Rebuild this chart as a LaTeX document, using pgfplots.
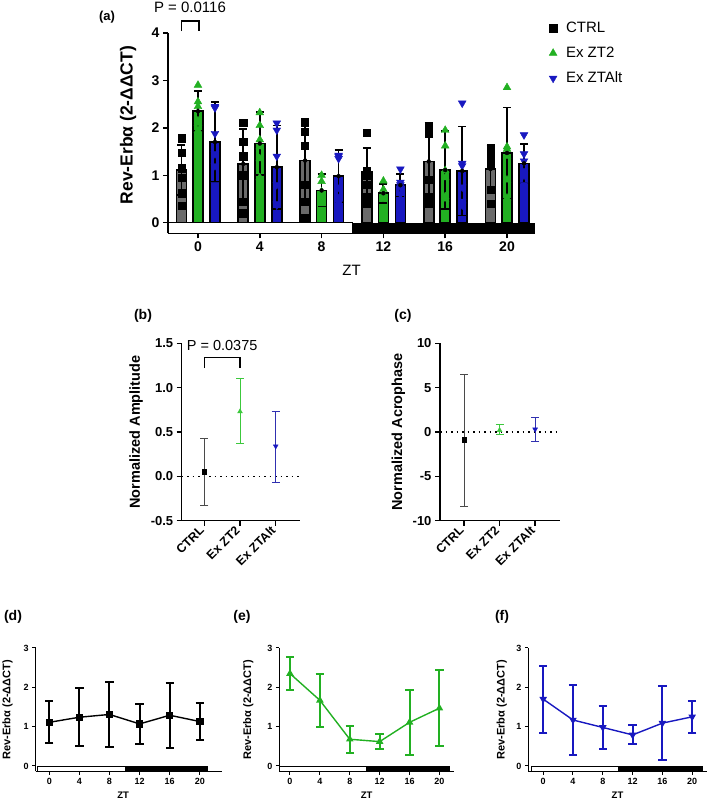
\documentclass[border=0pt]{standalone}
\usepackage{pgfplots}
\pgfplotsset{compat=1.18}
\usepackage{fontspec}
\setmainfont{Liberation Sans}
\definecolor{cgray}{HTML}{6A6A6A}
\definecolor{cgreen}{HTML}{22B022}
\definecolor{cblue}{HTML}{1818C0}
\definecolor{lgray}{HTML}{4A4A4A}
\definecolor{lgreen}{HTML}{3CC83C}
\definecolor{lblue}{HTML}{3030B0}
\newcommand{\fs}[1]{\fontsize{#1}{#1}\selectfont}
\pgfplotsset{
  base/.style={scale only axis, anchor=south west, axis lines=left,
    axis line style={-, line width=#1}, tick style={black, line width=#1},
    tick align=outside, clip=false,
    /pgf/number format/assume math mode=true},
  barerr/.style={only marks, mark=none, forget plot, error bars/.cd, y dir=both, y explicit,
    error bar style={line width=1.8pt, draw=black},
    error mark options={rotate=90, mark size=4pt, line width=1.8pt, draw=black}},
  dot/.style={error bars/.cd, y dir=both, y explicit,
    error bar style={line width=0.8pt},
    error mark options={rotate=90, mark size=4pt, line width=0.8pt}},
  lineax/.style={base=1pt, height=123.5pt, ymin=-0.14, ymax=3,
    ytick={0,1,2,3}, xtick={0,4,8,12,16,20}, major tick length=3.5pt,
    ticklabel style={font=\fs{9}\bfseries},
    ylabel={Rev-Erbα (2-ΔΔCT)}, xlabel={ZT},
    ylabel style={font=\fs{11}\bfseries, anchor=center},
    xlabel style={font=\fs{9.5}\bfseries, anchor=center}},
  lineerr/.style={error bars/.cd, y dir=both, y explicit,
    error bar style={line width=2pt},
    error mark options={rotate=90, mark size=4.2pt, line width=2pt}},
}
\begin{document}
\begin{tikzpicture}
\useasboundingbox (0pt,0pt) rectangle (709pt,803pt);
% ---------------- panel (a)
\begin{axis}[base=1.5pt, at={(168pt,569.7pt)}, width=367pt, height=200.3pt,
  xmin=-0.485, xmax=5.453, ymin=-0.224, ymax=4,
  xtick={0,1,2,3,4,5}, xticklabels={0,4,8,12,16,20},
  ytick={0,1,2,3,4}, major tick length=5pt,
  ticklabel style={font=\fs{14}\bfseries},
  ylabel={Rev-Erbα (2-ΔΔCT)}, xlabel={ZT},
  ylabel style={font=\fs{17.5}\bfseries, at={(axis description cs:-0.109,0.54)}, anchor=center},
  xlabel style={font=\fs{15}, at={(axis description cs:0.5,-0.183)}, anchor=center},
  legend style={at={(1.03,1.075)}, anchor=north west, draw=none, fill=none,
    font=\fs{15}, row sep=9pt, column sep=7pt}, legend cell align=left]
\draw[fill=white, line width=1pt] (axis cs:-0.485,-0.224) rectangle (axis cs:2.5,0);
\fill[black] (axis cs:2.5,-0.224) rectangle (axis cs:5.453,0);
\addplot[forget plot, ybar, bar width=10pt, bar shift=-16.5pt, fill=cgray, draw=black, line width=1.6pt]
  coordinates {(0,1.11) (1,1.24) (2,1.31) (3,1.07) (4,1.29) (5,1.13)};
\addplot[forget plot, ybar, bar width=10pt, bar shift=0pt, fill=cgreen, draw=black, line width=1.6pt]
  coordinates {(0,2.35) (1,1.67) (2,0.68) (3,0.62) (4,1.11) (5,1.47)};
\addplot[forget plot, ybar, bar width=10pt, bar shift=17pt, fill=cblue, draw=black, line width=1.6pt]
  coordinates {(0,1.70) (1,1.17) (2,0.98) (3,0.79) (4,1.09) (5,1.25)};
\addplot[only marks, mark=square*, mark size=3.6pt, black] coordinates {
  (-0.267,1.78) (-0.267,1.48) (-0.267,1.15) (-0.267,0.95) (-0.267,0.62) (-0.267,0.35)
  (0.733,2.10) (0.733,1.70) (0.733,1.40) (0.733,1.00) (0.733,0.45) (0.733,0.20)
  (1.733,2.12) (1.733,1.92) (1.733,1.62) (1.733,0.80) (1.733,0.45) (1.733,0.10)
  (2.733,1.90) (2.733,1.10) (2.733,1.00) (2.733,0.80) (2.733,0.55) (2.733,0.40)
  (3.733,2.05) (3.733,1.95) (3.733,1.88) (3.733,0.90) (3.733,0.55) (3.733,0.40)
  (4.733,1.58) (4.733,1.50) (4.733,1.35) (4.733,1.25) (4.733,0.70) (4.733,0.40)};
\addlegendentry{CTRL}
\addplot[only marks, mark=triangle*, mark size=4.5pt, cgreen] coordinates {
  (0,2.90) (0,2.55) (0,2.45) (0,2.10) (0,1.95) (0,2.15)
  (1,2.32) (1,1.75) (1,1.60) (1,1.35) (1,0.95) (1,2.05)
  (2,1.00) (2,0.87) (2,0.65) (2,0.55) (2,0.40) (2,0.61)
  (3,0.88) (3,0.70) (3,0.60) (3,0.55) (3,0.50) (3,0.49)
  (4,1.95) (4,1.62) (4,1.10) (4,0.95) (4,0.55) (4,0.50)
  (5,2.85) (5,1.60) (5,1.55) (5,1.40) (5,0.90) (5,0.52)};
\addlegendentry{Ex ZT2}
\addplot[only marks, mark=triangle*, mark options={rotate=180}, mark size=4.5pt, cblue] coordinates {
  (0.275,2.45) (0.275,2.42) (0.275,1.88) (0.275,1.45) (0.275,1.20) (0.275,0.80)
  (1.275,2.10) (1.275,1.95) (1.275,1.40) (1.275,0.80) (1.275,0.40) (1.275,0.37)
  (2.275,1.42) (2.275,1.40) (2.275,1.35) (2.275,0.75) (2.275,0.55) (2.275,0.41)
  (3.275,1.13) (3.275,0.85) (3.275,0.80) (3.275,0.75) (3.275,0.60) (3.275,0.61)
  (4.275,2.52) (4.275,1.25) (4.275,1.20) (4.275,0.75) (4.275,0.45) (4.275,0.37)
  (5.275,1.85) (5.275,1.45) (5.275,1.30) (5.275,1.10) (5.275,1.00) (5.275,0.80)};
\addlegendentry{Ex ZTAlt}
\addplot[barerr] coordinates {(-0.267,1.11) +- (0,0.53) (0.733,1.24) +- (0,0.74) (1.733,1.31) +- (0,0.82)
  (2.733,1.07) +- (0,0.50) (3.733,1.29) +- (0,0.82) (4.733,1.13) +- (0,0.48)};
\addplot[barerr] coordinates {(0,2.35) +- (0,0.42) (1,1.67) +- (0,0.67) (2,0.68) +- (0,0.34)
  (3,0.62) +- (0,0.20) (4,1.11) +- (0,0.83) (5,1.47) +- (0,0.96)};
\addplot[barerr] coordinates {(0.275,1.70) +- (0,0.85) (1.275,1.17) +- (0,0.88) (2.275,0.98) +- (0,0.55)
  (3.275,0.79) +- (0,0.24) (4.275,1.09) +- (0,0.94) (5.275,1.25) +- (0,0.41)};
\draw[line width=1.3pt] (axis cs:-0.264,4.04) -- (axis cs:-0.264,4.25) -- (axis cs:0.016,4.25) -- (axis cs:0.016,4.04);
\node[font=\fs{15}] at (axis cs:-0.13,4.55) {P = 0.0116};
\end{axis}
\node[font=\fs{13}\bfseries] at (107pt,786.3pt) {(a)};
% ---------------- panel (b)
\begin{axis}[base=1.5pt, at={(181.7pt,282.3pt)}, width=118.3pt, height=177.4pt,
  xmin=-0.633, xmax=2.68, ymin=-0.5, ymax=1.5,
  xtick={0,1,2}, xticklabels={CTRL,Ex ZT2,Ex ZTAlt},
  ytick={-0.5,0,0.5,1,1.5}, major tick length=5pt,
  yticklabel style={font=\fs{13}\bfseries, /pgf/number format/.cd, fixed, fixed zerofill, precision=1},
  xticklabel style={font=\fs{12.5}\bfseries, rotate=45, anchor=east},
  ylabel={Normalized Amplitude},
  ylabel style={font=\fs{14.5}\bfseries, at={(axis description cs:-0.386,0.5)}, anchor=center}]
\addplot[black, line width=1.5pt, dash pattern=on 1.5pt off 4pt] coordinates {(-0.633,0) (2.68,0)};
\addplot[lgray, only marks, mark=square*, mark size=2.3pt, mark options={black}, dot]
  coordinates {(0,0.05) += (0,0.38) -= (0,0.38)};
\addplot[lgreen, only marks, mark=triangle*, mark size=2.8pt, dot]
  coordinates {(1,0.73) += (0,0.37) -= (0,0.36)};
\addplot[lblue, only marks, mark=triangle*, mark options={rotate=180, fill=cblue, draw=cblue}, mark size=2.8pt, dot]
  coordinates {(2,0.34) += (0,0.39) -= (0,0.41)};
\draw[line width=1.4pt] (axis cs:0,1.22) -- (axis cs:0,1.338) -- (axis cs:1,1.338) -- (axis cs:1,1.22);
\node[font=\fs{14.5}] at (axis cs:0.5,1.48) {P = 0.0375};
\end{axis}
\node[font=\fs{14}\bfseries] at (143pt,487pt) {(b)};
% ---------------- panel (c)
\begin{axis}[base=1.5pt, at={(440pt,282.3pt)}, width=120pt, height=177.4pt,
  xmin=-0.676, xmax=2.70, ymin=-10, ymax=10,
  xtick={0,1,2}, xticklabels={CTRL,Ex ZT2,Ex ZTAlt},
  ytick={-10,-5,0,5,10}, major tick length=5pt,
  yticklabel style={font=\fs{13}\bfseries},
  xticklabel style={font=\fs{12.5}\bfseries, rotate=45, anchor=east},
  ylabel={Normalized Acrophase},
  ylabel style={font=\fs{14.5}\bfseries, at={(axis description cs:-0.347,0.5)}, anchor=center}]
\addplot[black, line width=1.5pt, dash pattern=on 1.5pt off 4pt] coordinates {(-0.676,0) (2.70,0)};
\addplot[lgray, only marks, mark=square*, mark size=2.3pt, mark options={black}, dot]
  coordinates {(0,-0.9) += (0,7.4) -= (0,7.5)};
\addplot[lgreen, only marks, mark=triangle*, mark size=2.8pt, dot]
  coordinates {(1,0.2) += (0,0.7) -= (0,0.5)};
\addplot[lblue, only marks, mark=triangle*, mark options={rotate=180, fill=cblue, draw=cblue}, mark size=2.8pt, dot]
  coordinates {(2,0.3) += (0,1.3) -= (0,1.4)};
\end{axis}
\node[font=\fs{14}\bfseries] at (403pt,487pt) {(c)};
% ---------------- panel (d)
\begin{axis}[lineax, at={(35.7pt,31.5pt)}, width=186pt, xmin=-1.8, xmax=22.9,
  ylabel style={at={(axis description cs:-0.152,0.5)}},
  xlabel style={at={(axis description cs:0.47,-0.19)}}]
\draw[fill=white, line width=0.8pt] (axis cs:-1.6,-0.14) rectangle (axis cs:10.1,0);
\fill[black] (axis cs:10.1,-0.14) rectangle (axis cs:21.1,0);
\addplot[black, line width=1.4pt, mark=square*, mark size=3pt, lineerr]
  coordinates {(0,1.11) +- (0,0.53) (4,1.24) +- (0,0.74) (8,1.31) +- (0,0.82)
               (12,1.07) +- (0,0.50) (16,1.29) +- (0,0.82) (20,1.13) +- (0,0.48)};
\end{axis}
\node[font=\fs{14}\bfseries] at (13pt,186pt) {(d)};
% ---------------- panel (e)
\begin{axis}[lineax, at={(279.3pt,31.5pt)}, width=174.7pt, xmin=-1.43, xmax=21.95,
  ylabel style={at={(axis description cs:-0.177,0.5)}},
  xlabel style={at={(axis description cs:0.5,-0.19)}}]
\draw[fill=white, line width=0.8pt] (axis cs:-1.43,-0.14) rectangle (axis cs:10.2,0);
\fill[black] (axis cs:10.2,-0.14) rectangle (axis cs:21.35,0);
\addplot[cgreen, line width=1.4pt, mark=triangle*, mark size=3pt, lineerr]
  coordinates {(0,2.35) +- (0,0.42) (4,1.67) +- (0,0.67) (8,0.68) +- (0,0.34)
               (12,0.62) +- (0,0.20) (16,1.11) +- (0,0.83) (20,1.47) +- (0,0.96)};
\end{axis}
\node[font=\fs{14}\bfseries] at (242pt,186pt) {(e)};
% ---------------- panel (f)
\begin{axis}[lineax, at={(528.3pt,31.5pt)}, width=178.4pt, xmin=-2.0, xmax=21.95,
  ylabel style={at={(axis description cs:-0.149,0.5)}},
  xlabel style={at={(axis description cs:0.5,-0.19)}}]
\draw[fill=white, line width=0.8pt] (axis cs:-1.6,-0.14) rectangle (axis cs:10.1,0);
\fill[black] (axis cs:10.1,-0.14) rectangle (axis cs:21.4,0);
\addplot[cblue, line width=1.4pt, mark=triangle*, mark options={rotate=180}, mark size=3pt, lineerr]
  coordinates {(0,1.70) +- (0,0.85) (4,1.17) +- (0,0.88) (8,0.98) +- (0,0.55)
               (12,0.79) +- (0,0.24) (16,1.09) +- (0,0.94) (20,1.25) +- (0,0.41)};
\end{axis}
\node[font=\fs{14}\bfseries] at (502pt,186pt) {(f)};
\end{tikzpicture}
\end{document}
